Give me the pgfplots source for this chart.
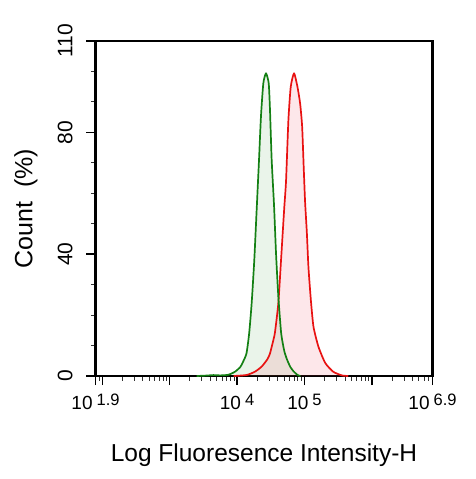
\documentclass[border=0pt]{standalone}
\usepackage{fontspec}
\setmainfont{Liberation Sans}
\usepackage{pgfplots}
\usepackage{pgfplotstable}
\pgfplotsset{compat=1.18}
\definecolor{gline}{RGB}{20,128,20}
\definecolor{rline}{RGB}{232,18,18}
\definecolor{gfill}{RGB}{20,128,20}
\definecolor{rfill}{RGB}{240,60,80}
\newcommand\xl[1]{10\hspace{4bp}\raisebox{3.5bp}{\fontsize{16.5bp}{16.5bp}\selectfont #1}}
\pgfplotstableread{
lx v
3.40 0
3.55 0.15
3.65 0.3
3.75 0.2
3.87 0.4
3.97 1.4
4.05 3.0
4.09 4.7
4.14 7.4
4.18 14.0
4.217 23.9
4.256 38.1
4.291 54.5
4.326 70.9
4.355 85.2
4.39 96.1
4.43 99.4
4.47 96.1
4.489 87.3
4.514 70.9
4.549 56.0
4.579 40.0
4.613 26.0
4.655 14.0
4.70 8.3
4.74 5.5
4.79 3.0
4.84 1.5
4.90 0.3
4.94 0
}\green
\pgfplotstableread{
lx v
3.95 0
4.142 0.33
4.266 1.42
4.366 3.1
4.45 5.5
4.489 7.4
4.539 11.8
4.564 14.5
4.613 24.0
4.653 38.1
4.70 55.0
4.727 64.0
4.762 84.0
4.797 95.0
4.846 99.4
4.896 95.0
4.936 89.5
4.966 81.9
4.99 68.0
5.010 57.0
5.036 47.0
5.059 35.9
5.095 25.0
5.134 16.2
5.208 9.6
5.308 4.3
5.427 1.4
5.556 0.2
5.65 0
}\red
\begin{document}
\begin{tikzpicture}
\path[use as bounding box] (-95.5bp,-103bp) rectangle (380.5bp,376bp);
\begin{axis}[
  at={(0,0)}, anchor=south west,
  scale only axis, width=337bp, height=335bp,
  xmin=1.9, xmax=6.9, ymin=0, ymax=110,
  axis line style={line width=2.4bp},
  tick pos=left, tick align=outside,
  major tick length=9bp, minor tick length=4.5bp,
  major tick style={line width=1.4bp, black},
  minor tick style={line width=0.9bp, black!80},
  xtick={1.9,2,3,4,5,6,6.9},
  xticklabels={\xl{1.9},,,\xl{4},\xl{5},,\xl{6.9}},
  minor xtick={1.90309,1.95424,
    2.30103,2.47712,2.60206,2.69897,2.77815,2.84510,2.90309,2.95424,
    3.30103,3.47712,3.60206,3.69897,3.77815,3.84510,3.90309,3.95424,
    4.30103,4.47712,4.60206,4.69897,4.77815,4.84510,4.90309,4.95424,
    5.30103,5.47712,5.60206,5.69897,5.77815,5.84510,5.90309,5.95424,
    6.30103,6.47712,6.60206,6.69897,6.77815,6.84510},
  ytick={0,40,80,110},
  yticklabels={0,40,80,110},
  minor ytick={10,20,30,50,60,70,90,100},
  xticklabel style={font=\fontsize{19bp}{19bp}\selectfont, anchor=base, yshift=-24bp},
  yticklabel style={font=\fontsize{21bp}{21bp}\selectfont, xshift=-14bp, rotate=90, anchor=base},
  xlabel={Log Fluoresence Intensity-H},
  ylabel={Count~~(\%)},
  xlabel style={font=\fontsize{24.5bp}{24.5bp}\selectfont, at={([yshift=-85.7bp]axis description cs:0.5,0)}, anchor=base},
  ylabel style={font=\fontsize{25bp}{25bp}\selectfont, at={([xshift=-63bp]axis description cs:0,0.5)}, rotate=0, anchor=base},
  clip=true,
]
\addplot[draw=none, fill=gfill, fill opacity=0.09, smooth, tension=0.35] table[x=lx, y=v] {\green} \closedcycle;
\addplot[draw=none, fill=rfill, fill opacity=0.12, smooth, tension=0.35] table[x=lx, y=v] {\red} \closedcycle;
\addplot[rline, line width=1.7bp, line join=round, smooth, tension=0.35] table[x=lx, y=v] {\red};
\addplot[gline, line width=1.7bp, line join=round, smooth, tension=0.35] table[x=lx, y=v] {\green};
\end{axis}
\end{tikzpicture}
\end{document}
